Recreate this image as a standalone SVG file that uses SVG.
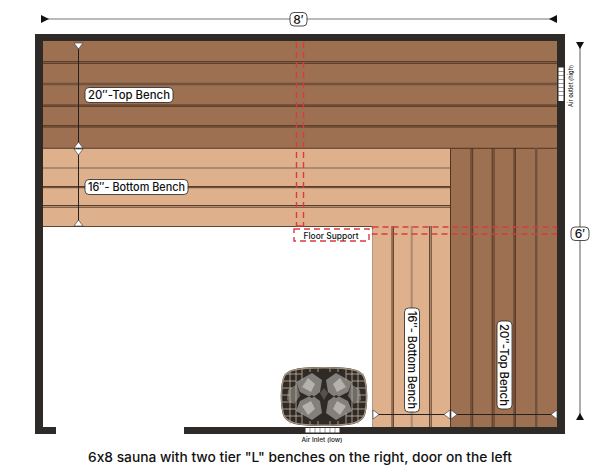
<svg xmlns="http://www.w3.org/2000/svg" width="600" height="475" viewBox="0 0 600 475">
<style>
text{font-family:"Inter","Liberation Sans",sans-serif;fill:#111;font-weight:500;font-variant-ligatures:none;font-feature-settings:"calt" 0}
.plank{stroke:#4a3020;stroke-width:.9;fill:none}
.band{stroke:#6f5240;stroke-width:2.400;fill:none}
.lband{stroke:#a98a72;stroke-width:2;fill:none}
.dash{stroke:#dc3a3f;stroke-width:1.400;stroke-dasharray:6 4;fill:none}
.dim{stroke:#222;stroke-width:1;fill:none}
.gdim{stroke:#777;stroke-width:1.200;fill:none}
.lab{fill:#fff;stroke:#222;stroke-width:.8}
.tick{fill:#fff;stroke:#333;stroke-width:.6}
.blk{fill:#111}
.cage{stroke:#c4b6a4;stroke-width:.8;fill:none}
</style>
<g id="walls">
<path d="M35 34H565V434H184V427H557V41H43V427H56V434H35Z" fill="#2e2a27"/>
</g>
<g id="top-bench-horizontal">
<rect x="43" y="41" width="514" height="107" fill="#9c7050"/>
<rect x="43" y="148" width="407" height="78" fill="#dfb08c"/>
</g>
<g id="bottom-bench-vertical"><rect x="372" y="226" width="78" height="201" fill="#dfb08c"/><path d="M372.500 226V427" stroke="#a89a8e"/></g>
<g id="top-bench-vertical"><rect x="450" y="148" width="107" height="279" fill="#9c7050"/></g>
<g id="planks">
<path class="plank" d="M43 61.700H557M43 63.300H557M43 105H557M43 106.300H557M43 125.700H557M43 127H557M43 148.300H557"/>
<path class="band" d="M43 84H557"/>
<path class="lband" d="M43 168H450"/>
<path class="plank" d="M43 186.500H450M43 187.700H450M43 205.500H450M43 207.200H450M43 226.500H372"/>
<path class="plank" d="M450.500 148V427M471 148V427M472.700 148V427M492.200 148V427M494 148V427M514 148V427M515.400 148V427"/>
<path class="band" d="M536.200 148V427"/>
<path class="plank" d="M392 226V427M393.400 226V427M429.600 226V427M431.200 226V427"/>
<path class="lband" d="M411.700 226V427"/>
</g>
<g id="floor-support">
<path class="dash" d="M296.500 42V226M303.500 42V226M296.500 226H303.500"/>
<path class="dash" d="M294 229H369V241H294Z"/>
<path class="dash" d="M372.500 227H556.500V234H372.500Z"/>
<text x="331" y="239" font-size="8.500" text-anchor="middle" font-weight="600" textLength="55" lengthAdjust="spacingAndGlyphs">Floor Support</text>
</g>
<g id="connectors">
<path class="gdim" d="M42 19H290M307 19H556"/>
<path class="gdim" d="M580 44V227M580 241V420"/>
<path class="dim" d="M78.500 44V224"/>
<path class="dim" d="M374 414.500H556"/>
<path class="blk" d="M41 15L49 19L41 23ZM557 15L549 19L557 23ZM576 42H584L580 49ZM576 420H584L580 413Z"/>
<path class="tick" d="M74 43H83L78.500 49ZM74 148L78.500 142L83 148ZM74 149H83L78.500 155ZM74 226L78.500 220L83 226Z"/>
<path class="tick" d="M373 410V419L379 414.500ZM450 410V419L444 414.500ZM451 410V419L457 414.500ZM557 410V419L551 414.500Z"/>
</g>
<g id="label-8ft"><rect class="lab" x="290" y="12.500" width="17" height="13.500" rx="4"/><text x="298.500" y="23.500" font-size="12" text-anchor="middle">8′</text></g>
<g id="label-6ft"><rect class="lab" x="571" y="227" width="18" height="13.500" rx="4"/><text x="580" y="238" font-size="12" text-anchor="middle">6′</text></g>
<g id="label-top-h"><rect class="lab" x="85" y="87.500" width="88" height="15" rx="4"/><text x="129" y="99" font-size="11.500" text-anchor="middle" textLength="82" lengthAdjust="spacingAndGlyphs">20″-Top Bench</text></g>
<g id="label-bottom-h"><rect class="lab" x="85" y="179.500" width="103" height="15" rx="4"/><text x="136.500" y="191" font-size="11.500" text-anchor="middle" textLength="97" lengthAdjust="spacingAndGlyphs">16″- Bottom Bench</text></g>
<g id="label-bottom-v"><rect class="lab" x="404.500" y="308" width="15" height="104" rx="4"/><text transform="translate(407.500 311) rotate(90)" font-size="11.500" textLength="98" lengthAdjust="spacingAndGlyphs">16″- Bottom Bench</text></g>
<g id="label-top-v"><rect class="lab" x="497" y="321" width="15" height="88" rx="4"/><text transform="translate(500 324) rotate(90)" font-size="11.500" textLength="82" lengthAdjust="spacingAndGlyphs">20″-Top Bench</text></g>
<g id="air-outlet">
<rect x="558.500" y="67.500" width="5" height="33.500" fill="#fff"/>
<path d="M558 71.500H564M558 75.500H564M558 79.500H564M558 83.500H564M558 87.500H564M558 91.500H564M558 95.500H564" stroke="#555" stroke-width=".6"/>
<text transform="translate(573 107) rotate(-90)" font-size="5.500" font-weight="600" textLength="42" lengthAdjust="spacingAndGlyphs">Air outlet (high)</text>
</g>
<g id="air-inlet">
<rect x="305.500" y="428" width="34" height="4.500" fill="#fff"/>
<path d="M310 428V433M315 428V433M320 428V433M325 428V433M330 428V433M335 428V433" stroke="#555" stroke-width=".6"/>
<text x="322" y="441.500" font-size="5.800" text-anchor="middle" font-weight="600" textLength="41" lengthAdjust="spacingAndGlyphs">Air Inlet (low)</text>
</g>
<g id="heater">
<path id="heater-body" d="M324 367C350 367 362 369 365 378C368 388 368 405 365 415C362 424 350 426 324 426C298 426 286 424 283 415C280 405 280 388 283 378C286 369 298 367 324 367Z" fill="#2f2a26"/>
<path d="M312 373L322 380L320 392L312 398L300 392L296 382ZM336 373L326 380L328 392L336 398L348 392L352 382ZM312 420L322 413L320 401L312 395L300 401L296 411ZM336 420L326 413L328 401L336 395L348 401L352 411Z" fill="#83807c"/>
<path d="M308 378L315 384L311 392L302 387ZM340 378L333 384L337 392L346 387ZM308 415L315 409L311 401L302 406ZM340 415L333 409L337 401L346 406Z" fill="#b5b2ad"/>
<path d="M288 390L297 384L300 396L294 404L287 400ZM360 390L351 384L348 396L354 404L361 400Z" fill="#6f6b66"/>
<path d="M320 393L324 388L328 393L324 400Z" fill="#55514d"/>
<path class="cage" d="M284 374H302M346 374H364M282 381H296M352 381H366M282 388H292M356 388H366M282 395H290M358 395H366M282 402H292M356 402H366M282 409H296M352 409H366M284 416H302M346 416H364M290 370V424M296 369V425M352 369V425M358 370V424M302 368V380M302 413V425M346 368V380M346 413V425M310 368V372M338 368V372M310 421V425M338 421V425M318 368V372M330 368V372M318 421V425M330 421V425"/>
<path d="M324 367.800C350 367.800 361.500 369.800 364.300 378.200C367.200 388 367.200 405 364.300 414.800C361.500 423.200 350 425.200 324 425.200C298 425.200 286.500 423.200 283.700 414.800C280.800 405 280.800 388 283.700 378.200C286.500 369.800 298 367.800 324 367.800Z" fill="none" stroke="#a3917d" stroke-width="1.400"/>
</g>
<g id="caption"><text x="300" y="461.500" font-size="13.500" text-anchor="middle" textLength="424" lengthAdjust="spacingAndGlyphs">6x8 sauna with two tier "L" benches on the right, door on the left</text></g>
</svg>
